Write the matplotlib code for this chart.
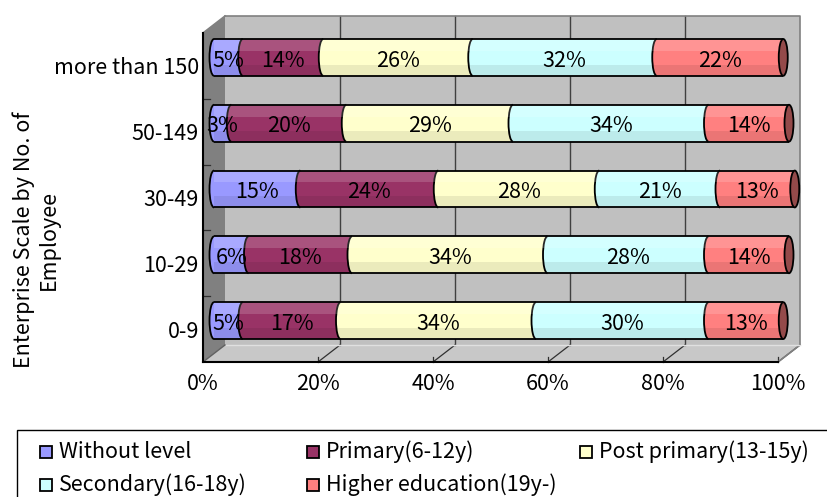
import matplotlib
matplotlib.use("Agg")
import matplotlib.pyplot as plt
from matplotlib.patches import Rectangle, Ellipse, Arc, Polygon
from matplotlib.colors import to_rgb
import numpy as np

plt.rcParams['font.family'] = ['Noto Sans CJK JP', 'DejaVu Sans']

# ---- data -------------------------------------------------------------
categories = ["0-9", "10-29", "30-49", "50-149", "more than 150"]
series_names = ["Without level", "Primary(6-12y)", "Post primary(13-15y)",
                "Secondary(16-18y)", "Higher education(19y-)"]
without_level = [5, 6, 15, 3, 5]
primary = [17, 18, 24, 20, 14]
post_primary = [34, 34, 28, 29, 26]
secondary = [30, 28, 21, 34, 32]
higher_education = [13, 14, 13, 14, 22]
series_colors = ["#9999ff", "#993366", "#ffffcc", "#ccffff", "#ff8080"]
x_ticks = [0, 20, 40, 60, 80, 100]
x_tick_labels = ["0%", "20%", "40%", "60%", "80%", "100%"]
y_title = "Enterprise Scale by No. of\nEmployee"

series = [without_level, primary, post_primary, secondary, higher_education]
FS = 15.5

# ---- figure / axes ----------------------------------------------------
W, H = 827, 497
fig = plt.figure(figsize=(W / 100, H / 100), dpi=100)
ax = fig.add_axes([203 / W, 1 - 362 / H, 575 / W, 329 / H])
n = len(categories)
ax.set_xlim(0, 100)
ax.set_ylim(0, n)
for s in ax.spines.values():
    s.set_visible(False)
ax.patch.set_visible(False)

# depth of the 3-D box in data units
DX = 22 / 575 * 100
DY = 17 / (329 / n)
MX, MY = DX / 2, DY / 2          # bars sit half way into the box

wall = "#c0c0c0"
side = "#808080"
edge = "#808080"

# back wall, side wall, floor
ax.add_patch(Rectangle((DX, DY), 100, n, facecolor=wall, edgecolor="none",
                       zorder=0, clip_on=False))
ax.add_patch(Polygon([(0, 0), (DX, DY), (DX, n + DY), (0, n)], closed=True,
                     facecolor=side, edgecolor="none", zorder=0, clip_on=False))
ax.add_patch(Polygon([(0, 0), (DX, DY), (100 + DX, DY), (100, 0)], closed=True,
                     facecolor="#c8c8c8", edgecolor="none", zorder=0, clip_on=False))

# back-wall gridlines and floor lines
for t in x_ticks[1:-1]:
    ax.plot([t + DX, t + DX], [DY, n + DY], color="#404040", lw=1.0, zorder=1, clip_on=False)
for t in x_ticks[1:]:
    ax.plot([t, t + DX], [0, DY], color="#303030", lw=0.9, zorder=1, clip_on=False)
    ax.plot([t, t], [0, 0.08], color="#303030", lw=0.9, zorder=1, clip_on=False)

# box outline
ax.plot([DX, 100 + DX, 100 + DX], [n + DY, n + DY, DY], color=edge, lw=1.2, zorder=1, clip_on=False)
ax.plot([0, DX], [n, n + DY], color=edge, lw=1.2, zorder=1, clip_on=False)
ax.plot([100, 100 + DX], [0, DY], color=edge, lw=1.2, zorder=1, clip_on=False)
ax.plot([DX, 100 + DX], [DY, DY], color="#e0e0e0", lw=1.0, zorder=1, clip_on=False)
ax.plot([0, DX], [0, DY], color="#606060", lw=1.0, zorder=1, clip_on=False)
for k in range(1, n):
    ax.plot([0, 1.2], [k, k], color="#303030", lw=0.9, zorder=1, clip_on=False)
ax.plot([0, 0], [0, n], color="black", lw=1.5, zorder=2, clip_on=False)
ax.plot([0, 100], [0, 0], color="black", lw=1.5, zorder=2, clip_on=False)

# ---- cylinders ----------------------------------------------------------
h = 0.56
ew = 9 / 575 * 100
z = 3.0
for i in range(n):
    yc = i + 0.5 + MY
    left = 0.0
    for j, vals in enumerate(series):
        v = vals[i]
        col = series_colors[j]
        ax.barh(yc, v, left=left + MX, height=h, color=col, edgecolor="none",
                zorder=z, clip_on=False)
        z += 0.01
        ax.add_patch(Ellipse((left + MX, yc), ew, h, facecolor=col, edgecolor="none",
                             zorder=z, clip_on=False))
        z += 0.01
        ax.add_patch(Arc((left + MX, yc), ew, h, theta1=90, theta2=270,
                         color="black", lw=1.3, zorder=z, clip_on=False))
        z += 0.01
        left += v
    end = left
    # shading bands for the rounded look
    ax.add_patch(Rectangle((MX, yc + h * 0.18), end, h * 0.32, facecolor="white",
                           alpha=0.16, edgecolor="none", zorder=z, clip_on=False))
    ax.add_patch(Rectangle((MX, yc - h * 0.5), end, h * 0.3, facecolor="black",
                           alpha=0.08, edgecolor="none", zorder=z, clip_on=False))
    z += 0.01
    ax.plot([MX, end + MX], [yc + h / 2, yc + h / 2], color="black", lw=1.3,
            zorder=z, clip_on=False, solid_capstyle="butt")
    ax.plot([MX, end + MX], [yc - h / 2, yc - h / 2], color="black", lw=1.3,
            zorder=z, clip_on=False, solid_capstyle="butt")
    cap = tuple(c * 0.58 for c in to_rgb(series_colors[-1]))
    ax.add_patch(Ellipse((end + MX, yc), ew, h, facecolor=cap, edgecolor="black",
                         lw=1.3, zorder=z + 0.005, clip_on=False))
    z += 0.02
    # value labels
    left = 0.0
    for j, vals in enumerate(series):
        v = vals[i]
        ax.text(left + v / 2 + MX, yc - 0.05, f"{v}%", ha="center", va="center",
                fontsize=FS, color="black", zorder=50, clip_on=False)
        left += v

# ---- ticks / labels ---------------------------------------------------
ax.set_xticks(x_ticks, x_tick_labels)
ax.set_yticks(np.arange(n) + 0.5, categories)
ax.tick_params(axis="x", length=0, pad=8, labelsize=FS)
ax.tick_params(axis="y", length=0, pad=3, labelsize=FS)

fig.text(36 / W, 1 - 240 / H, y_title, rotation=90, ha="center", va="center",
         multialignment="center", fontsize=FS)

# ---- legend -------------------------------------------------------------
def fx(px):
    return px / W


def fy(py):
    return 1 - py / H


fig.patches.append(Rectangle((fx(17), fy(520)), fx(840) - fx(17), fy(430) - fy(520),
                             transform=fig.transFigure, facecolor="white",
                             edgecolor="black", lw=1.0, zorder=0))
col_x = [40, 307, 580]
row_y = [452, 485]
for j, name in enumerate(series_names):
    r, c = divmod(j, 3)
    x0, y0 = col_x[c], row_y[r]
    fig.patches.append(Rectangle((fx(x0), fy(y0 + 6)), fx(12), 12 / H,
                                 transform=fig.transFigure,
                                 facecolor=series_colors[j], edgecolor="black",
                                 lw=1.3, zorder=1))
    fig.text(fx(x0 + 19), fy(y0), name, ha="left", va="center", fontsize=FS)

fig.savefig("out.png", dpi=100)
